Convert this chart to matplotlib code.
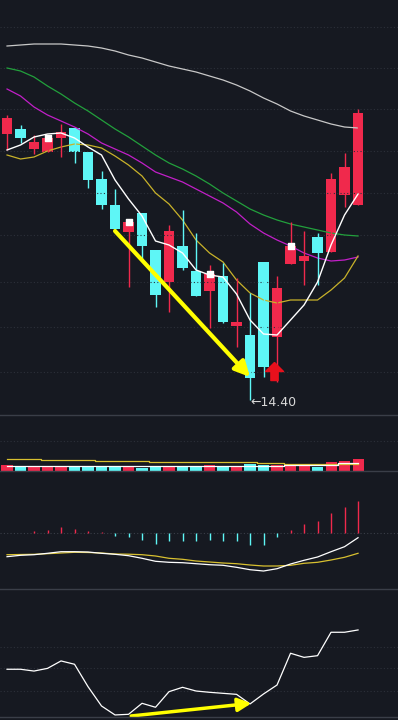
import matplotlib
matplotlib.use('Agg')
import matplotlib.pyplot as plt
from matplotlib.lines import Line2D
import numpy as np

BG = '#161921'
RED = '#f0294c'
CYAN = '#5ef6f6'
GRID = '#2c303a'
SEP = '#3a3e48'
YEL = '#ffff00'

# daily candles (price)
opens = [17.06, 17.11, 16.91, 16.88, 17.02, 17.12, 16.88, 16.61, 16.35, 16.08, 16.27, 15.90, 15.58, 15.94,
         15.69, 15.49, 15.64, 15.14, 15.05, 15.78, 15.03, 15.76, 15.79, 16.03, 15.88, 16.45, 16.35]
closes = [17.22, 17.02, 16.98, 17.02, 17.08, 16.88, 16.60, 16.35, 16.11, 16.18, 15.94, 15.45, 16.09, 15.72,
          15.44, 15.66, 15.18, 15.18, 14.62, 14.73, 15.52, 15.94, 15.84, 15.87, 16.61, 16.73, 17.27]
highs = [17.25, 17.15, 17.05, 17.04, 17.16, 17.12, 16.88, 16.69, 16.51, 16.20, 16.27, 15.90, 16.15, 16.30,
         16.07, 15.75, 15.77, 15.62, 15.47, 15.78, 15.64, 16.18, 16.09, 16.07, 16.67, 16.87, 17.31]
lows = [16.90, 16.97, 16.86, 16.88, 16.83, 16.77, 16.52, 16.31, 16.09, 15.53, 15.80, 15.33, 15.28, 15.70,
        15.44, 15.12, 15.17, 14.93, 14.40, 14.63, 14.58, 15.76, 15.55, 15.55, 15.88, 16.33, 16.35]

ma5 = [16.90, 16.95, 17.03, 17.06, 17.07, 17.02, 16.93, 16.85, 16.60, 16.41, 16.24, 15.99, 15.95, 15.87,
       15.70, 15.65, 15.63, 15.46, 15.20, 15.06, 15.05, 15.20, 15.35, 15.58, 15.95, 16.25, 16.46]
ma10 = [16.85, 16.81, 16.83, 16.89, 16.93, 16.96, 16.95, 16.92, 16.84, 16.75, 16.64, 16.47, 16.36, 16.20,
        16.00, 15.87, 15.78, 15.60, 15.47, 15.40, 15.37, 15.40, 15.40, 15.40, 15.50, 15.62, 15.84]
ma20 = [17.51, 17.44, 17.33, 17.25, 17.19, 17.13, 17.06, 16.97, 16.91, 16.85, 16.77, 16.68, 16.63, 16.58,
        16.51, 16.44, 16.37, 16.28, 16.16, 16.07, 16.00, 15.94, 15.87, 15.82, 15.79, 15.80, 15.83]
ma30 = [17.72, 17.69, 17.63, 17.54, 17.46, 17.37, 17.29, 17.20, 17.11, 17.03, 16.94, 16.85, 16.77, 16.71,
        16.64, 16.56, 16.47, 16.39, 16.31, 16.25, 16.20, 16.16, 16.13, 16.10, 16.07, 16.05, 16.04]
ma60 = [17.94, 17.95, 17.96, 17.96, 17.96, 17.95, 17.94, 17.92, 17.89, 17.85, 17.82, 17.78, 17.74, 17.71,
        17.68, 17.64, 17.60, 17.55, 17.49, 17.42, 17.36, 17.29, 17.24, 17.20, 17.16, 17.13, 17.12]
flag_days = [3, 9, 15, 21]

volume = [6.0, 4.3, 4.3, 4.3, 4.3, 4.3, 4.3, 4.3, 4.3, 4.3, 3.0, 4.3, 4.3, 4.3,
          4.3, 5.7, 4.3, 4.3, 7.0, 6.0, 6.3, 5.7, 5.7, 4.0, 9.0, 10.0, 12.0]
vol_ma_a = [4.7] * 21 + [6.0] * 4 + [7.7] * 2
vol_ma_b = [11.7] * 3 + [10.7] * 4 + [9.7] * 4 + [8.7] * 8 + [7.7] * 2 + [6.7] * 6

dif = [-0.237, -0.223, -0.217, -0.203, -0.187, -0.187, -0.190, -0.203, -0.213, -0.227, -0.253, -0.283, -0.293, -0.297,
       -0.307, -0.317, -0.323, -0.343, -0.367, -0.380, -0.357, -0.310, -0.273, -0.240, -0.187, -0.137, -0.047]
dea = [-0.217, -0.215, -0.213, -0.207, -0.200, -0.193, -0.195, -0.200, -0.210, -0.212, -0.217, -0.230, -0.253, -0.263,
       -0.280, -0.290, -0.300, -0.307, -0.320, -0.330, -0.330, -0.323, -0.303, -0.293, -0.270, -0.243, -0.203]
macd_hist = [0.003, 0.0, 0.017, 0.033, 0.057, 0.043, 0.023, 0.007, -0.033, -0.043, -0.067, -0.107, -0.083, -0.077,
             -0.083, -0.067, -0.083, -0.083, -0.117, -0.123, -0.043, 0.033, 0.090, 0.117, 0.200, 0.257, 0.317]

osc = [37.3, 37.3, 35.9, 38.0, 43.8, 41.2, 23.7, 8.6, 1.6, 2.1, 10.7, 7.6, 19.8, 23.2,
       20.3, 19.3, 18.5, 17.7, 10.2, 18.0, 25.0, 49.8, 46.6, 47.9, 66.2, 66.2, 68.0]

low_label = '14.40'

idx = np.arange(len(opens))
up = np.array(closes) >= np.array(opens)
colors = [RED if u else CYAN for u in up]

fig = plt.figure(figsize=(3.98, 7.2), dpi=100)
fig.patch.set_facecolor(BG)


def panel(top_px, bottom_px):
    ax = fig.add_axes([0, 1 - bottom_px / 720, 1, (bottom_px - top_px) / 720])
    ax.set_facecolor(BG)
    ax.set_xlim(-0.52, 28.96)
    for s in ax.spines.values():
        s.set_visible(False)
    ax.set_xticks([])
    ax.set_yticks([])
    return ax


# main price panel
ax = panel(0, 415)
ax.set_ylim(14.25, 18.40)
for p in [14.68, 15.13, 15.58, 16.05, 16.47, 16.89, 17.31, 17.72, 18.13]:
    ax.axhline(p, color=GRID, lw=0.8, ls=(0, (1, 2)))

ax.plot(idx, ma60, color='#c8c8c8', lw=0.9)
ax.plot(idx, ma30, color='#22a03c', lw=0.9)
ax.plot(idx, ma20, color='#c21fc8', lw=0.9)
ax.plot(idx, ma10, color='#c8b22a', lw=0.9)

ax.vlines(idx, lows, highs, colors=colors, lw=1.0)
bottoms = np.minimum(opens, closes)
heights = np.maximum(np.abs(np.array(closes) - np.array(opens)), 0.02)
ax.bar(idx, heights, bottom=bottoms, width=0.8, color=colors, edgecolor=colors, lw=0)
ax.plot(idx, ma5, color='white', lw=1.0)

ax.scatter(flag_days, [closes[i] for i in flag_days], marker='s', s=14, color='white', zorder=5)

ax.annotate('', xy=(18.0, 14.63), xytext=(8.0, 16.09),
            arrowprops=dict(arrowstyle='-|>,head_width=0.45,head_length=0.9', color=YEL, lw=3,
                            shrinkA=0, shrinkB=0))
ax.text(18.0, 14.37, '\u2190' + low_label, color='#d8d8d8', fontsize=9, ha='left', va='center')

arrow_marker = [(0, 1), (-1, 0), (-0.4, 0), (-0.4, -1), (0.4, -1), (0.4, 0), (1, 0), (0, 1)]
ax.plot([19.75], [14.69], marker=arrow_marker, markersize=13, color='#e8101c', ls='none')

# volume panel
axv = panel(415, 471)
axv.set_ylim(0, 56)
axv.axhline(30, color=GRID, lw=0.8, ls=(0, (1, 2)))
axv.bar(idx, volume, width=0.82, color=colors, lw=0)
axv.plot(idx, vol_ma_b, color='#d8c030', lw=0.9, drawstyle='steps-mid')
axv.plot(idx, vol_ma_a, color='white', lw=0.9, drawstyle='steps-mid')

# macd panel
axm = panel(471, 589)
axm.set_ylim(-0.56, 0.62)
axm.axhline(0, color='#3a3e48', lw=0.8, ls=(0, (1, 2)))
hist_colors = [RED if h > 0 else CYAN for h in macd_hist]
axm.vlines(idx, 0, macd_hist, colors=hist_colors, lw=1.0)
axm.plot(idx, dea, color='#d8c030', lw=0.9)
axm.plot(idx, dif, color='white', lw=0.9)

# oscillator panel
axo = panel(589, 717)
axo.set_ylim(0, 100)
for g in [20, 38, 55]:
    axo.axhline(g, color=GRID, lw=0.8, ls=(0, (1, 2)))
axo.plot(idx, osc, color='white', lw=0.9)
axo.annotate('', xy=(18.1, 10.7), xytext=(9.2, 0.8),
             arrowprops=dict(arrowstyle='-|>,head_width=0.4,head_length=0.8', color=YEL, lw=2.5,
                             shrinkA=0, shrinkB=0))

for ypx in [415, 471, 589, 717]:
    fig.add_artist(Line2D([0, 1], [1 - ypx / 720] * 2, color=SEP, lw=1.0))

fig.savefig('out.png', dpi=100, facecolor=BG)
